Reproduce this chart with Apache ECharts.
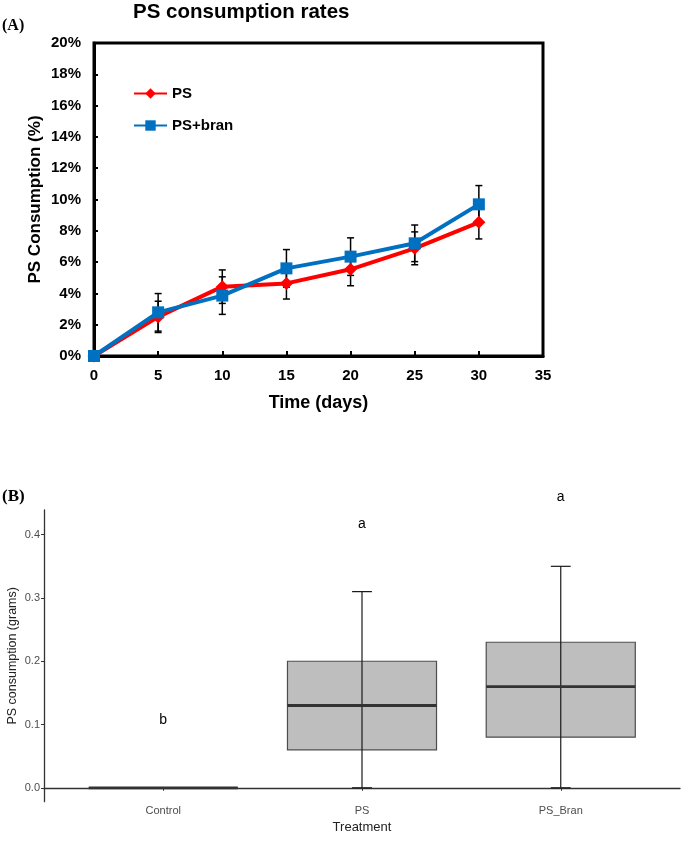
<!DOCTYPE html>
<html><head><meta charset="utf-8">
<script src="https://cdn.jsdelivr.net/npm/echarts@6/dist/echarts.min.js"></script>
<style>html,body{margin:0;padding:0;background:#fff}#c{width:685px;height:841px}</style>
</head><body><div id="c"></div>
<script>
// ---- Panel A data ----
const days = [0, 5, 10, 15, 20, 25, 30];
const psRate = [0, 2.5, 4.43, 4.64, 5.54, 6.88, 8.54];
const psErr = [0, 1.0, 1.07, 1.0, 1.05, 1.05, 1.06];
const branRate = [0, 2.79, 3.86, 5.6, 6.35, 7.2, 9.69];
const branErr = [0, 1.2, 1.2, 1.2, 1.2, 1.17, 1.2];

// ---- Panel B data ----
const treatments = ['Control', 'PS', 'PS_Bran'];
const boxMin = [0, 0, 0];
const boxQ1 = [0, 0.06, 0.08];
const boxMed = [0, 0.13, 0.16];
const boxQ3 = [0, 0.20, 0.23];
const boxMax = [0, 0.31, 0.35];
const letters = ['b', 'a', 'a'];
const letterY = [0.107, 0.417, 0.46];
const bTicks = [0, 0.1, 0.2, 0.3, 0.4];

const chart = echarts.init(document.getElementById('c'), null, {renderer: 'canvas'});
const F = 'Arial, "Liberation Sans", sans-serif';

function errRender(params, api) {
  const x = api.value(0), y = api.value(1), e = api.value(2);
  if (!e) return null;
  const t = api.coord([x, y + e]), b = api.coord([x, y - e]);
  const w = 3.5;
  const st = {stroke: '#000', lineWidth: 1.5};
  return {type: 'group', children: [
    {type: 'line', shape: {x1: t[0], y1: t[1], x2: b[0], y2: b[1]}, style: st},
    {type: 'line', shape: {x1: t[0] - w, y1: t[1], x2: t[0] + w, y2: t[1]}, style: st},
    {type: 'line', shape: {x1: b[0] - w, y1: b[1], x2: b[0] + w, y2: b[1]}, style: st}
  ]};
}

function boxRender(params, api) {
  const x = api.value(0);
  const mn = api.coord([x, api.value(1)]), q1 = api.coord([x, api.value(2)]),
        md = api.coord([x, api.value(3)]), q3 = api.coord([x, api.value(4)]),
        mx = api.coord([x, api.value(5)]);
  const bw = api.size([0.75, 0])[0];
  const cw = api.size([0.1, 0])[0];
  const cx = mn[0];
  const ws = {stroke: '#1a1a1a', lineWidth: 1.2};
  return {type: 'group', children: [
    {type: 'rect', shape: {x: cx - bw / 2, y: q3[1], width: bw, height: q1[1] - q3[1]},
     style: {fill: '#bebebe', stroke: '#4d4d4d', lineWidth: 1.2}},
    {type: 'line', shape: {x1: cx, y1: mx[1], x2: cx, y2: mn[1]}, style: ws},
    {type: 'line', shape: {x1: cx - cw / 2, y1: mx[1], x2: cx + cw / 2, y2: mx[1]}, style: ws},
    {type: 'line', shape: {x1: cx - cw / 2, y1: mn[1], x2: cx + cw / 2, y2: mn[1]}, style: ws},
    {type: 'line', shape: {x1: cx - bw / 2, y1: md[1], x2: cx + bw / 2, y2: md[1]},
     style: {stroke: '#333', lineWidth: 2.8}}
  ]};
}

function letterRender(params, api) {
  const p = api.coord([api.value(0), api.value(1)]);
  return {type: 'text', x: p[0], y: p[1],
    style: {text: letters[params.dataIndex], fill: '#000', font: '14px ' + F, align: 'center', verticalAlign: 'middle'}};
}

const option = {
  animation: false,
  backgroundColor: '#fff',
  title: {text: 'PS consumption rates', left: 133, top: 2, padding: 0,
    textStyle: {fontFamily: F, fontWeight: 'bold', fontSize: 20.5, color: '#000'}},
  graphic: [
    {type: 'text', left: 2, top: 18, style: {text: '(A)', font: 'bold 16px "Liberation Serif", "Times New Roman", serif', fill: '#000'}},
    {type: 'text', left: 2, top: 488, style: {text: '(B)', font: 'bold 17px "Liberation Serif", "Times New Roman", serif', fill: '#000'}}
  ],
  legend: {
    data: ['PS', 'PS+bran'], orient: 'vertical', left: 133, top: 86, padding: 0,
    itemWidth: 33, itemHeight: 13, itemGap: 17,
    textStyle: {fontFamily: F, fontWeight: 'bold', fontSize: 15, color: '#000'}
  },
  grid: [
    {left: 94, top: 43, width: 449, height: 313, show: true, borderColor: '#000', borderWidth: 3,
     backgroundColor: 'transparent', outerBoundsMode: 'none', containLabel: false},
    {left: 44, top: 510, width: 636, height: 291.7, outerBoundsMode: 'none', containLabel: false}
  ],
  xAxis: [
    {gridIndex: 0, type: 'value', min: 0, max: 35, interval: 5,
     name: 'Time (days)', nameLocation: 'middle', nameGap: 38, nameMoveOverlap: false,
     nameTextStyle: {fontFamily: F, fontWeight: 'bold', fontSize: 18, color: '#000'},
     axisLine: {lineStyle: {color: '#000', width: 3}},
     axisTick: {inside: true, length: 5, lineStyle: {color: '#000', width: 2}},
     axisLabel: {fontFamily: F, fontWeight: 'bold', fontSize: 15, color: '#000', margin: 12},
     splitLine: {show: false}},
    {gridIndex: 1, type: 'value', min: 0.4, max: 3.6,
     name: 'Treatment', nameLocation: 'middle', nameGap: 19, nameMoveOverlap: false,
     nameTextStyle: {fontFamily: F, fontSize: 13, color: '#222'},
     axisLine: {lineStyle: {color: '#333', width: 1.3}},
     axisTick: {length: 3, lineStyle: {color: '#333'}, customValues: [1, 2, 3]},
     axisLabel: {fontFamily: F, fontSize: 11, color: '#4d4d4d', margin: 4, customValues: [1, 2, 3],
       formatter: v => treatments[Math.round(v) - 1]},
     splitLine: {show: false}}
  ],
  yAxis: [
    {gridIndex: 0, type: 'value', min: 0, max: 20, interval: 2,
     name: 'PS Consumption (%)', nameLocation: 'middle', nameGap: 50, nameMoveOverlap: false,
     nameTextStyle: {fontFamily: F, fontWeight: 'bold', fontSize: 17, color: '#000'},
     axisLine: {lineStyle: {color: '#000', width: 3}},
     axisTick: {inside: true, length: 4, lineStyle: {color: '#000', width: 2}},
     axisLabel: {fontFamily: F, fontWeight: 'bold', fontSize: 15, color: '#000', margin: 13, formatter: v => v + '%'},
     splitLine: {show: false}},
    {gridIndex: 1, type: 'value', min: -0.022, max: 0.439,
     name: 'PS consumption (grams)', nameLocation: 'middle', nameGap: 25, nameMoveOverlap: false,
     nameTextStyle: {fontFamily: F, fontSize: 12.5, color: '#222'},
     axisLine: {lineStyle: {color: '#333', width: 1.3}},
     axisTick: {length: 3, lineStyle: {color: '#333'}, customValues: bTicks},
     axisLabel: {fontFamily: F, fontSize: 11, color: '#4d4d4d', margin: 4, customValues: bTicks,
       formatter: v => v.toFixed(1)},
     splitLine: {show: false}}
  ],
  series: [
    {type: 'custom', name: 'errPS', xAxisIndex: 0, yAxisIndex: 0, z: 1, renderItem: errRender,
     data: days.map((d, i) => [d, psRate[i], psErr[i]])},
    {type: 'custom', name: 'errBran', xAxisIndex: 0, yAxisIndex: 0, z: 1, renderItem: errRender,
     data: days.map((d, i) => [d, branRate[i], branErr[i]])},
    {type: 'line', name: 'PS', xAxisIndex: 0, yAxisIndex: 0, z: 3,
     data: days.map((d, i) => [d, psRate[i]]),
     symbol: 'diamond', symbolSize: 13, showAllSymbol: true,
     lineStyle: {color: '#ff0000', width: 4}, itemStyle: {color: '#ff0000', borderWidth: 0}},
    {type: 'line', name: 'PS+bran', xAxisIndex: 0, yAxisIndex: 0, z: 4,
     data: days.map((d, i) => [d, branRate[i]]),
     symbol: 'rect', symbolSize: 12, showAllSymbol: true,
     lineStyle: {color: '#0070c0', width: 4}, itemStyle: {color: '#0070c0', borderWidth: 0}},
    {type: 'custom', name: 'box', xAxisIndex: 1, yAxisIndex: 1, renderItem: boxRender,
     data: treatments.map((t, i) => [i + 1, boxMin[i], boxQ1[i], boxMed[i], boxQ3[i], boxMax[i]])},
    {type: 'custom', name: 'letters', xAxisIndex: 1, yAxisIndex: 1, renderItem: letterRender, clip: false,
     data: treatments.map((t, i) => [i + 1, letterY[i]])}
  ]
};
chart.setOption(option);
</script></body></html>
